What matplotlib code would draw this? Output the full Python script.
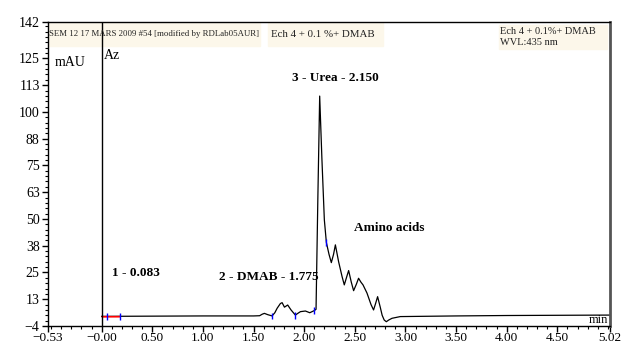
import matplotlib.pyplot as plt
import numpy as np
from matplotlib.patches import Rectangle
from matplotlib.ticker import MultipleLocator

plt.rcParams['font.family'] = ['Liberation Serif', 'DejaVu Serif']

# chromatogram trace (min, mAU)
t = [0.0, 0.5, 1.0, 1.5, 1.56, 1.585, 1.607, 1.64, 1.683, 1.71, 1.733, 1.765,
     1.782, 1.805, 1.837, 1.87, 1.913, 1.94, 1.963, 2.012, 2.055, 2.10, 2.117,
     2.135, 2.153, 2.175, 2.199, 2.219, 2.245, 2.268, 2.29, 2.308, 2.34, 2.374,
     2.396, 2.42, 2.439, 2.465, 2.488, 2.515, 2.537, 2.56, 2.581, 2.62, 2.66,
     2.685, 2.705, 2.725, 2.75, 2.77, 2.79, 2.811, 2.835, 2.867, 2.949, 3.5,
     4.0, 4.5, 5.02]
mau = [4.5, 4.6, 4.7, 4.7, 4.8, 5.5, 5.9, 5.3, 4.7, 6.2, 8.3, 10.5,
       10.9, 8.8, 9.8, 7.5, 5.1, 6.0, 6.7, 7.0, 6.2, 7.2, 7.8,
       60.0, 107.4, 78.0, 49.6, 39.0, 33.5, 29.6, 33.5, 37.9, 30.0, 23.1,
       19.2, 23.0, 25.9, 20.5, 16.5, 19.5, 22.3, 20.5, 19.2, 15.4, 10.0,
       7.5, 10.5, 13.7, 9.0, 5.0, 2.8, 2.0, 2.8, 3.6, 4.4, 4.7,
       4.9, 5.0, 5.1]

# integration marks
marks = [0.049, 0.18, 1.683, 1.913, 2.10, 2.219]
red_t = [0.007, 0.18]

peaks = ['1 - 0.083', '2 - DMAB - 1.775', '3 - Urea - 2.150', 'Amino acids']
peak_pos = [(0.335, 24.8), (1.647, 22.9), (2.308, 115.8), (2.84, 45.8)]

xticks = [-0.53, 0.0, 0.5, 1.0, 1.5, 2.0, 2.5, 3.0, 3.5, 4.0, 4.5, 5.02]
xlabels = ['\u22120.53', '\u22120.00', '0.50', '1.00', '1.50', '2.00', '2.50',
           '3.00', '3.50', '4.00', '4.50', '5.02']
yticks = [0, 12.5, 25, 37.5, 50, 62.5, 75, 87.5, 100, 112.5, 125, 142]
ylabels = ['\u22124', '13', '25', '38', '50', '63', '75', '88', '100', '113', '125', '142']

fig = plt.figure(figsize=(6.24, 3.44), dpi=100)
ax = fig.add_axes([48 / 624, 18 / 344, 562 / 624, 304 / 344])

ax.plot(t, mau, color='black', lw=0.9)
ax.plot(red_t, np.interp(red_t, t, mau) - 0.2, color='red', lw=1.2)
mv = np.interp(marks, t, mau)
ax.vlines(marks, mv - 1.6, mv + 1.6, color='blue', lw=1)
ax.axvline(0, color='black', lw=1)

ax.set_xlim(-0.53, 5.02)
ax.set_ylim(0, 142)
ax.set_xticks(xticks)
ax.set_xticklabels(xlabels)
ax.set_yticks(yticks)
ax.set_yticklabels(ylabels)
ax.xaxis.set_minor_locator(MultipleLocator(0.1))
ax.yaxis.set_minor_locator(MultipleLocator(2.5))
ax.tick_params(labelsize=10, length=4, width=1, pad=2)
ax.tick_params(axis='x', labelsize=9.5, pad=0.5)
ax.tick_params(which='minor', length=2.5, width=0.8)

for s in ['left', 'top', 'bottom']:
    ax.spines[s].set_linewidth(1)
ax.spines['right'].set_linewidth(2)
ax.spines['right'].set_color('#555555')

for lab, (px, py) in zip(peaks, peak_pos):
    ax.text(px, py, lab, ha='center', va='center', fontsize=9.5, fontweight='bold')

box = '#fcf7ea'
ax.add_patch(Rectangle((0.0, 0.921), 0.377, 0.076, transform=ax.transAxes,
                       color=box, zorder=0))
ax.add_patch(Rectangle((0.391, 0.921), 0.205, 0.076, transform=ax.transAxes,
                       color=box, zorder=0))
ax.add_patch(Rectangle((0.8025, 0.911), 0.192, 0.079, transform=ax.transAxes,
                       color=box, zorder=0))
ax.text(0.002, 0.959, 'SEM 12 17 MARS 2009 #54 [modified by RDLab05AUR]',
        transform=ax.transAxes, fontsize=6.3, va='center', color='#222222')
ax.text(0.397, 0.959, 'Ech 4 + 0.1 %+ DMAB', transform=ax.transAxes,
        fontsize=7.8, va='center', color='#222222')
ax.text(0.8045, 0.970, 'Ech 4 + 0.1%+ DMAB', transform=ax.transAxes,
        fontsize=7.5, va='center', color='#222222')
ax.text(0.8045, 0.931, 'WVL:435 nm', transform=ax.transAxes,
        fontsize=7.5, va='center', color='#222222')

ax.text(0.0125, 0.868, 'mAU', transform=ax.transAxes, fontsize=10, va='center')
ax.text(0.0996, 0.891, 'Az', transform=ax.transAxes, fontsize=10, va='center')
ax.text(0.9964, 0.02, 'min', transform=ax.transAxes, fontsize=9,
        va='center', ha='right')

fig.savefig('out.png', dpi=100)
